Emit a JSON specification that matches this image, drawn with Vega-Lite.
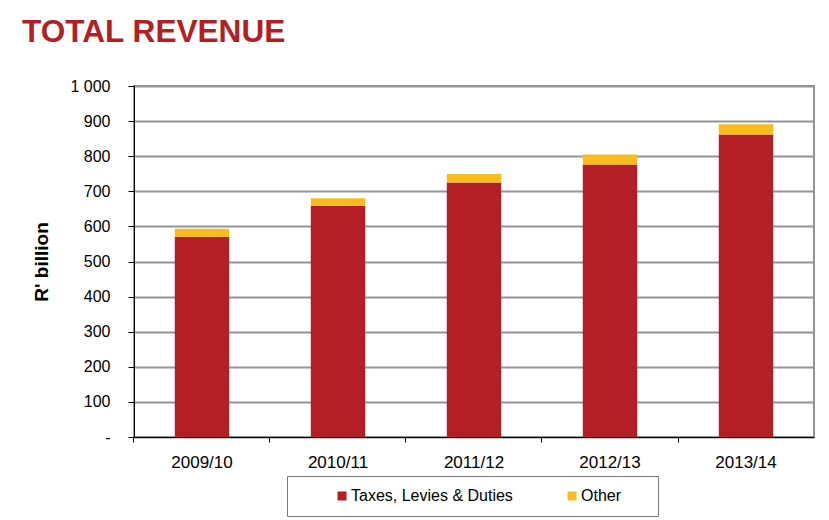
{
  "$schema": "https://vega.github.io/schema/vega-lite/v6.json",
  "autosize": {"type": "none"},
  "width": 680,
  "height": 351,
  "padding": {"left": 134, "top": 86, "right": 15, "bottom": 83},
  "background": "white",
  "title": {
    "text": "TOTAL REVENUE",
    "anchor": "start",
    "frame": "group",
    "dx": -112,
    "offset": 4,
    "baseline": "alphabetic",
    "font": "Liberation Sans",
    "fontSize": 31.6,
    "fontWeight": "bold",
    "color": "#B31F24"
  },
  "data": {
    "values": [
      {"year": "2009/10", "type": "Taxes, Levies & Duties", "value": 570, "ord": 1},
      {"year": "2009/10", "type": "Other", "value": 23, "ord": 2},
      {"year": "2010/11", "type": "Taxes, Levies & Duties", "value": 659, "ord": 1},
      {"year": "2010/11", "type": "Other", "value": 21, "ord": 2},
      {"year": "2011/12", "type": "Taxes, Levies & Duties", "value": 725, "ord": 1},
      {"year": "2011/12", "type": "Other", "value": 24, "ord": 2},
      {"year": "2012/13", "type": "Taxes, Levies & Duties", "value": 776, "ord": 1},
      {"year": "2012/13", "type": "Other", "value": 29, "ord": 2},
      {"year": "2013/14", "type": "Taxes, Levies & Duties", "value": 862, "ord": 1},
      {"year": "2013/14", "type": "Other", "value": 29, "ord": 2}
    ]
  },
  "mark": {"type": "bar"},
  "encoding": {
    "x": {
      "field": "year",
      "type": "nominal",
      "sort": null,
      "scale": {"paddingInner": 0.6, "paddingOuter": 0.3},
      "axis": {
        "title": null,
        "labelAngle": 0,
        "labelFont": "Liberation Sans",
        "labelFontSize": 17,
        "labelColor": "black",
        "labelPadding": 12,
        "bandPosition": -0.75,
        "tickSize": 5,
        "tickColor": "black",
        "domainColor": "black",
        "domainWidth": 1
      }
    },
    "y": {
      "field": "value",
      "type": "quantitative",
      "stack": "zero",
      "scale": {"domain": [0, 1000], "nice": false},
      "axis": {
        "title": "R' billion",
        "titleFont": "Liberation Sans",
        "titleFontSize": 19,
        "titleFontWeight": "bold",
        "titleColor": "black",
        "titlePadding": 18,
        "values": [0, 100, 200, 300, 400, 500, 600, 700, 800, 900, 1000],
        "labelExpr": "datum.value == 0 ? '-' : replace(format(datum.value, ','), ',', ' ')",
        "labelFont": "Liberation Sans",
        "labelFontSize": 16,
        "labelColor": "black",
        "labelPadding": 18,
        "tickSize": 6,
        "tickColor": "black",
        "domainColor": "black",
        "grid": true,
        "gridColor": "#959595",
        "gridWidth": 2
      }
    },
    "color": {
      "field": "type",
      "type": "nominal",
      "scale": {"domain": ["Taxes, Levies & Duties", "Other"], "range": ["#B31F24", "#F7BD1F"]},
      "legend": {
        "orient": "none",
        "legendX": 153,
        "legendY": 390,
        "direction": "horizontal",
        "title": "\u00a0",
        "titleOrient": "left",
        "titleFontSize": 16,
        "titlePadding": 35,
        "labelExpr": "datum.label + (datum.label == 'Other' ? '\u2800\u2800' : '')",
        "labelFont": "Liberation Sans",
        "labelFontSize": 16,
        "labelColor": "black",
        "labelLimit": 400,
        "labelOffset": 1,
        "symbolType": "square",
        "symbolSize": 81,
        "symbolStrokeWidth": 0,
        "columnPadding": 51,
        "padding": 12,
        "strokeColor": "#7a7a7a",
        "fillColor": "white"
      }
    },
    "order": {"field": "ord", "type": "quantitative"}
  },
  "config": {
    "view": {"stroke": "#959595", "strokeWidth": 2},
    "axis": {"labelFont": "Liberation Sans"}
  }
}
